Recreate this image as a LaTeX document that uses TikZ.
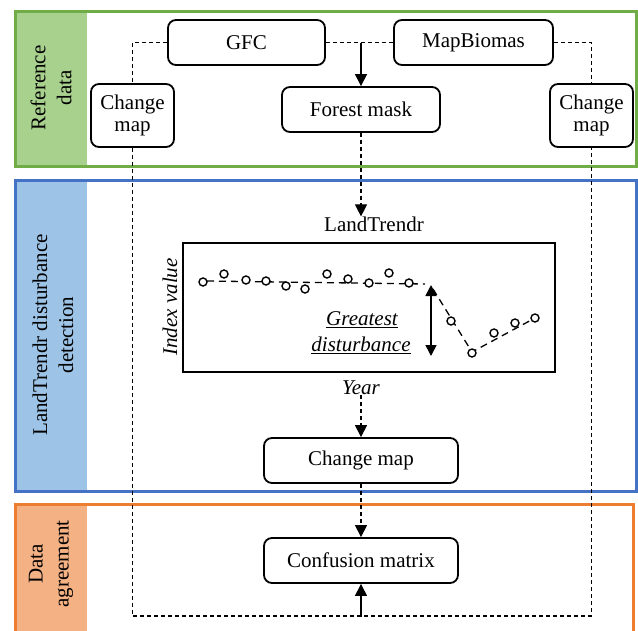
\documentclass[tikz,border=0pt]{standalone}
\usepackage{fontspec}
\setmainfont{Liberation Serif}
\usetikzlibrary{arrows.meta}
\definecolor{gband}{HTML}{A9D18E}
\definecolor{gline}{HTML}{70AD47}
\definecolor{bband}{HTML}{9DC3E6}
\definecolor{bline}{HTML}{4472C4}
\definecolor{oband}{HTML}{F4B183}
\definecolor{oline}{HTML}{ED7D31}
\begin{document}
\begin{tikzpicture}[x=1pt,y=-1pt,
  txt/.style={font=\fontsize{21}{23}\selectfont, inner sep=0pt},
  box/.style={draw, line width=1.8pt, rounded corners=8pt, align=center,
    inner sep=0pt, font=\fontsize{21}{22}\selectfont},
  bandlabel/.style={rotate=90, align=center, inner sep=0pt, font=\fontsize{21}{26}\selectfont},
  dsh/.style={line width=1.1pt, dash pattern=on 4pt off 3pt},
  seriesdash/.style={line width=1.3pt, dash pattern=on 7pt off 5pt},
  tip/.style={-{Triangle[length=12pt,width=12pt]}},
  pt/.style={draw, line width=1.4pt, fill=white, circle, inner sep=0pt, minimum size=8pt}
]
\useasboundingbox (0,0) rectangle (638,630);
\clip (0,0) rectangle (638,630);
% sections
\fill[gband] (15,11) rectangle (87,166);
\draw[gline, line width=3pt] (15,11) rectangle (636,166);
\fill[bband] (15,180) rectangle (87,491);
\draw[bline, line width=3pt] (15,180) rectangle (636,491);
\fill[oband] (15,504) rectangle (87,640);
\draw[oline, line width=3pt] (15,504) rectangle (633,640);
\node[bandlabel] (lab1) at (51,88) {Reference\\data};
\node[bandlabel] (lab2) at (53,335) {LandTrendr disturbance\\detection};
\node[bandlabel] (lab3) at (51,564) {Data\\agreement};

% nodes
\node[box, minimum width=157pt, minimum height=45pt] (gfc) at (246.5,42.5) {GFC};
\node[box, minimum width=159pt, minimum height=45pt] (mb) at (473.5,42.5) {MapBiomas};
\node[box, minimum width=158pt, minimum height=45pt] (fm) at (361,109.5) {Forest mask};
\node[box, minimum width=83pt, minimum height=63pt] (cmL) at (132.5,115.5) {Change\\map};
\node[box, minimum width=83pt, minimum height=63pt] (cmR) at (591.5,115.5) {Change\\map};
\node[txt] (lt) at (374,224) {LandTrendr};
\node[draw, line width=1.4pt, minimum width=372pt, minimum height=129pt, inner sep=0pt] (chart) at (369,307.5) {};
\node[txt, rotate=90, font=\fontsize{21}{23}\selectfont\itshape] (iv) at (170,307) {Index value};
\node[txt, font=\fontsize{21}{23}\selectfont\itshape] (yr) at (361,388) {Year};
\node[txt, font=\fontsize{21}{23}\selectfont\itshape] (gd1) at (362,320) {\underline{Greatest}};
\node[txt, font=\fontsize{21}{23}\selectfont\itshape] (gd2) at (361,345) {\underline{disturbance}};
\node[box, minimum width=194pt, minimum height=45pt] (cmM) at (361,460.5) {Change map};
\node[box, minimum width=194pt, minimum height=45pt] (cm) at (361,560.5) {Confusion matrix};

% connectors
\draw[dsh] (gfc.west) -| (cmL.north);
\draw[dsh] (mb.east) -| (cmR.north);
\draw[dsh] (gfc.east) -- (mb.west);
\coordinate (j) at (fm.north |- gfc.east);
\draw[line width=1.1pt, tip] (j) -- (fm.north);
\coordinate (ltin) at (fm.south |- lt.north);
\draw[dsh, tip] (fm.south) -- (ltin);
\draw[dsh, tip] (yr.south) -- (cmM.north);
\draw[dsh, tip] (cmM.south) -- (cm.north);
\coordinate (bot) at (361,616);
\draw[dsh] (cmL.south) |- (bot) -| (cmR.south);
\draw[line width=1.1pt, tip] (bot) -- (cm.south);

% time series
\draw[seriesdash] (207,281) -- (425,284);
\draw[seriesdash] (433,289) -- (472,352) -- (535,318);
\foreach \x/\y [count=\i] in {203/282,224/274,246/280,266/281,286/286,305/289,327/274,348/279,369/283,389/273,409/283,451/321,472/353,494/333,515/323,535/318}
  \node[pt] (p\i) at (\x,\y) {};
\coordinate (gtop) at (431,285);
\coordinate (gbot) at (431,356);
\draw[line width=1.6pt, {Triangle[length=11pt,width=11pt]}-{Triangle[length=11pt,width=11pt]}] (gtop) -- (gbot);
\end{tikzpicture}
\end{document}
